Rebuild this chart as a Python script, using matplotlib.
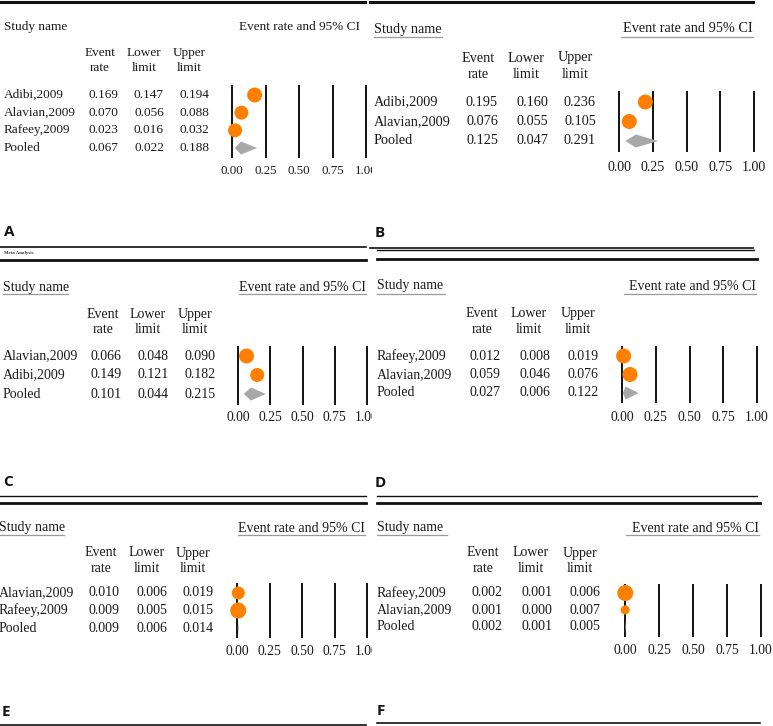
import matplotlib
matplotlib.use("Agg")
import matplotlib.pyplot as plt
from matplotlib.lines import Line2D
from matplotlib.transforms import Bbox, TransformedBbox, blended_transform_factory

# Data
names_a = ["Adibi,2009", "Alavian,2009", "Rafeey,2009", "Pooled"]
rate_a = [0.169, 0.070, 0.023, 0.067]
lower_a = [0.147, 0.056, 0.016, 0.022]
upper_a = [0.194, 0.088, 0.032, 0.188]

names_b = ["Adibi,2009", "Alavian,2009", "Pooled"]
rate_b = [0.195, 0.076, 0.125]
lower_b = [0.160, 0.055, 0.047]
upper_b = [0.236, 0.105, 0.291]

names_c = ["Alavian,2009", "Adibi,2009", "Pooled"]
rate_c = [0.066, 0.149, 0.101]
lower_c = [0.048, 0.121, 0.044]
upper_c = [0.090, 0.182, 0.215]

names_d = ["Rafeey,2009", "Alavian,2009", "Pooled"]
rate_d = [0.012, 0.059, 0.027]
lower_d = [0.008, 0.046, 0.006]
upper_d = [0.019, 0.076, 0.122]

names_e = ["Alavian,2009", "Rafeey,2009", "Pooled"]
rate_e = [0.010, 0.009, 0.009]
lower_e = [0.006, 0.005, 0.006]
upper_e = [0.019, 0.015, 0.014]

names_f = ["Rafeey,2009", "Alavian,2009", "Pooled"]
rate_f = [0.002, 0.001, 0.002]
lower_f = [0.001, 0.000, 0.001]
upper_f = [0.006, 0.007, 0.005]

ticks = [0.00, 0.25, 0.50, 0.75, 1.00]
tick_labels = ["0.00", "0.25", "0.50", "0.75", "1.00"]

W, H = 773, 726
ORANGE = "#ff7f00"
GREY = "#a8a8a8"
INK = "#1a1a1a"
SERIF = ["Liberation Serif", "DejaVu Serif"]

# layout of each panel, in pixels of the output picture
panels = [
    dict(letter="A", data=(names_a, rate_a, lower_a, upper_a), fs=9.5,
         name_x=4, title_y=27, title_r=360, uline=None,
         hdr_y=(53, 68), hdr_x=(100, 144, 189), val_x=(103, 149, 194),
         rows=(95, 112, 130, 148), fx0=232, fx1=366, tick_y=170,
         letter_xy=(4, 232), marker_px=(15, 14, 14),
         hlines=[(2, 0, 365, 2.2), (247, 0, 366, 1.2)]),
    dict(letter="B", data=(names_b, rate_b, lower_b, upper_b), fs=10.3,
         name_x=374, title_y=29, title_r=753, uline=(37, 374, 442, 621, 753),
         hdr_y=(58, 74), hdr_x=(478, 526, 575), val_x=(482, 532, 580),
         rows=(102, 121, 141), fx0=619, fx1=754, tick_y=166,
         letter_xy=(375, 233), marker_px=(15, 15),
         hlines=[(2, 370, 753, 2.2), (248, 370, 753, 1.2)]),
    dict(letter="C", data=(names_c, rate_c, lower_c, upper_c), fs=10,
         name_x=3, title_y=287, title_r=366, uline=(294, 3, 68, 239, 366),
         hdr_y=(314, 329), hdr_x=(103, 148, 195), val_x=(106, 153, 200),
         rows=(356, 375, 394), fx0=238, fx1=367, tick_y=416,
         letter_xy=(3, 482), marker_px=(15, 14),
         hlines=[(260, 0, 366, 2.0)]),
    dict(letter="D", data=(names_d, rate_d, lower_d, upper_d), fs=10,
         name_x=377, title_y=286, title_r=756, uline=(294, 377, 445, 624, 756),
         hdr_y=(313, 329), hdr_x=(482, 529, 578), val_x=(485, 535, 583),
         rows=(356, 375, 393), fx0=622, fx1=757, tick_y=416,
         letter_xy=(375, 483), marker_px=(15, 15),
         hlines=[(250, 377, 754, 1.0), (259, 377, 757, 2.0)]),
    dict(letter="E", data=(names_e, rate_e, lower_e, upper_e), fs=10,
         name_x=-1, title_y=528, title_r=365, uline=(535, 0, 64, 238, 365),
         hdr_y=(553, 568), hdr_x=(101, 147, 193), val_x=(104, 152, 198),
         rows=(593, 611, 628), fx0=237, fx1=367, tick_y=650,
         letter_xy=(2, 712), marker_px=(13, 16),
         hlines=[(496, 0, 366, 1.0), (503, 0, 366, 2.0), (725, 0, 366, 1.2)]),
    dict(letter="F", data=(names_f, rate_f, lower_f, upper_f), fs=10,
         name_x=377, title_y=528, title_r=759, uline=(535, 377, 447, 626, 759),
         hdr_y=(553, 568), hdr_x=(483, 531, 580), val_x=(487, 537, 585),
         rows=(593, 610, 627), fx0=625, fx1=761, tick_y=649,
         letter_xy=(377, 711), marker_px=(16, 9),
         hlines=[(496, 377, 757, 1.0), (503, 377, 760, 2.0), (723, 377, 760, 1.2)]),
]


def fxp(px):
    return px / W


def fyp(py):
    return 1 - py / H


fig = plt.figure(figsize=(W / 100, H / 100), dpi=100)
fig.patch.set_facecolor("white")

for p in panels:
    names, rate, lower, upper = p["data"]
    n = len(names)
    rows = p["rows"]
    step = (rows[-1] - rows[0]) / (n - 1)
    top, bottom = rows[0] - step / 2, rows[-1] + step / 2
    fs = p["fs"]

    ax = fig.add_axes([fxp(p["fx0"]), fyp(bottom), fxp(p["fx1"] - p["fx0"]),
                       (bottom - top) / H])
    ax.set_xlim(0, 1)
    ax.set_ylim(n - 0.5, -0.5)
    for s in ax.spines.values():
        s.set_visible(False)
    ax.set_yticks([])
    for t in ticks:
        ax.axvline(t, color="#111111", lw=1.4, zorder=1, clip_on=False)
    pad = (p["tick_y"] - bottom - 5) / 1.389
    ax.set_xticks(ticks, tick_labels)
    ax.tick_params(axis="x", length=0, pad=pad, labelsize=fs - 0.2,
                   labelcolor=INK)
    for lbl in ax.get_xticklabels():
        lbl.set_family(SERIF)
        if p["fx1"] < 400:
            lbl.set_clip_box(TransformedBbox(Bbox.from_extents(0, 0, 372 / W, 1),
                                             fig.transFigure))
            lbl.set_clip_on(True)

    # study markers
    sizes = [(d * 0.72) ** 2 for d in p["marker_px"]]
    ax.scatter(rate[:-1], range(n - 1), s=sizes, color=ORANGE, lw=0,
               zorder=3, clip_on=False)
    # pooled diamond
    h = 6.5 / step
    y0 = n - 1
    ax.fill([lower[-1], rate[-1], upper[-1], rate[-1]],
            [y0, y0 - h, y0, y0 + h], color=GREY, lw=0, zorder=2, clip_on=False)

    # table text
    tr = blended_transform_factory(fig.transFigure, ax.transData)
    for i in range(n):
        ax.text(fxp(p["name_x"]), i, names[i], transform=tr, ha="left",
                va="center", fontsize=fs, family=SERIF, color=INK)
        for cx, v in zip(p["val_x"], (rate[i], lower[i], upper[i])):
            ax.text(fxp(cx), i, f"{v:.3f}", transform=tr, ha="center",
                    va="center", fontsize=fs, family=SERIF, color=INK)

    for cx, (w1, w2) in zip(p["hdr_x"], [("Event", "rate"), ("Lower", "limit"),
                                          ("Upper", "limit")]):
        fig.text(fxp(cx), fyp(p["hdr_y"][0]), w1, ha="center", va="center",
                 fontsize=fs, family=SERIF, color=INK)
        fig.text(fxp(cx), fyp(p["hdr_y"][1]), w2, ha="center", va="center",
                 fontsize=fs, family=SERIF, color=INK)

    fig.text(fxp(p["name_x"]), fyp(p["title_y"]), "Study name", ha="left",
             va="center", fontsize=fs, family=SERIF, color=INK)
    fig.text(fxp(p["title_r"]), fyp(p["title_y"]), "Event rate and 95% CI",
             ha="right", va="center", fontsize=fs, family=SERIF, color=INK)
    if p["uline"]:
        uy, a0, a1, b0, b1 = p["uline"]
        for x0, x1 in [(a0, a1), (b0, b1)]:
            fig.add_artist(Line2D([fxp(x0), fxp(x1)], [fyp(uy), fyp(uy)],
                                  color="#9a9a9a", lw=0.9,
                                  transform=fig.transFigure))

    lx, ly = p["letter_xy"]
    fig.text(fxp(lx), fyp(ly), p["letter"], ha="left", va="center",
             fontsize=11, fontweight="bold", family=["Open Sans", "DejaVu Sans"],
             color="#111111")

    for y, x0, x1, lw in p["hlines"]:
        fig.add_artist(Line2D([fxp(x0), fxp(x1)], [fyp(y), fyp(y)],
                              color="#111111", lw=lw, transform=fig.transFigure))

# tiny header left over in panel C
fig.text(fxp(4), fyp(253), "Meta Analysis", ha="left", va="center",
         fontsize=3.5, fontweight="bold", family=SERIF, color="#333333")

fig.savefig("out.png", dpi=100)
